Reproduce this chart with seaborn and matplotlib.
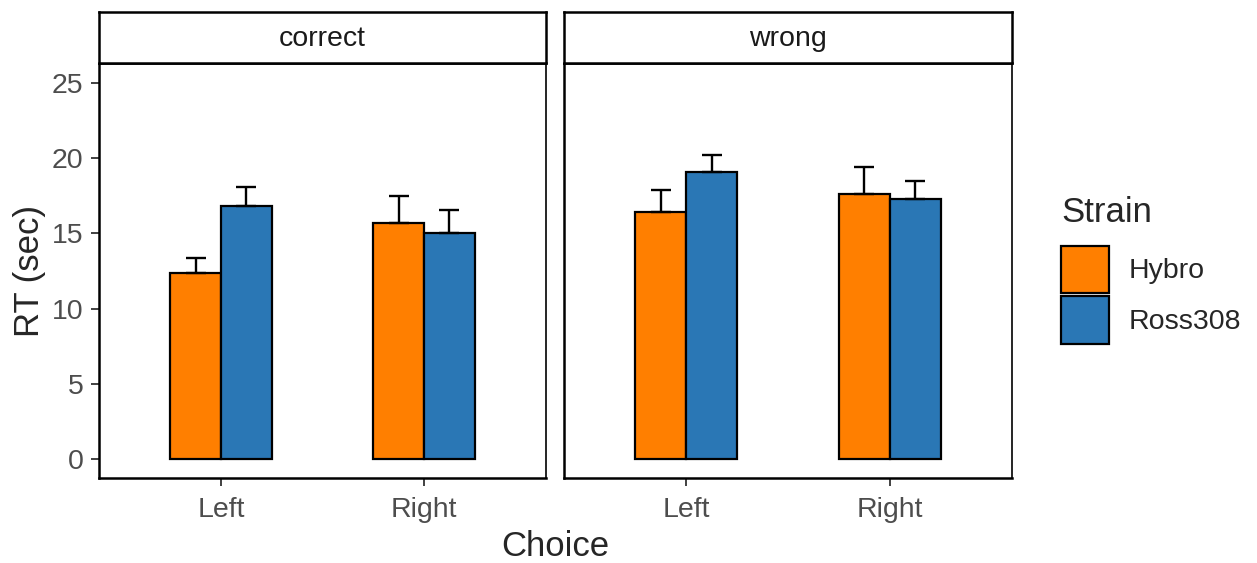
import matplotlib
matplotlib.use("Agg")
import matplotlib.pyplot as plt
from matplotlib.patches import Patch
import seaborn as sns
import pandas as pd

# Mean response times (sec) and standard errors per facet / choice / strain
facets = ["correct", "wrong"]
choices = ["Left", "Right"]
strains = ["Hybro", "Ross308"]

correct_hybro = [12.4, 15.7]
correct_ross = [16.8, 15.05]
wrong_hybro = [16.45, 17.6]
wrong_ross = [19.1, 17.25]

correct_hybro_se = [0.95, 1.75]
correct_ross_se = [1.3, 1.5]
wrong_hybro_se = [1.45, 1.8]
wrong_ross_se = [1.1, 1.2]

yticks = [0, 5, 10, 15, 20, 25]

rows = []
for facet, hyb, ros, hyb_se, ros_se in [
    ("correct", correct_hybro, correct_ross, correct_hybro_se, correct_ross_se),
    ("wrong", wrong_hybro, wrong_ross, wrong_hybro_se, wrong_ross_se),
]:
    for i, ch in enumerate(choices):
        rows.append(dict(Result=facet, Choice=ch, Strain="Hybro", RT=hyb[i], SE=hyb_se[i]))
        rows.append(dict(Result=facet, Choice=ch, Strain="Ross308", RT=ros[i], SE=ros_se[i]))
df = pd.DataFrame(rows)

sns.set_style("white")
plt.rcParams["font.family"] = ["Liberation Sans", "DejaVu Sans"]

palette = {"Hybro": "#FF7F00", "Ross308": "#2A77B5"}
tick_color = "#4D4D4D"
base_size = 20.5
title_size = 25

fig = plt.figure(figsize=(12.57, 5.63), dpi=100)
W, H = 1257, 563


def fx(px):
    return px / W


def fy(py):
    return 1 - py / H


panel_x = [(99, 546), (564, 1012)]
panel_top, panel_bot = 64, 478
strip_top, strip_bot = 12, 63

for k, facet in enumerate(facets):
    x0, x1 = panel_x[k]
    ax = fig.add_axes([fx(x0), fy(panel_bot), fx(x1 - x0), fy(panel_top) - fy(panel_bot)])
    sub = df[df["Result"] == facet]
    sns.barplot(data=sub, x="Choice", y="RT", hue="Strain", order=choices,
                hue_order=strains, palette=palette, width=0.5, gap=0,
                edgecolor="black", linewidth=1.6, errorbar=None, legend=False,
                saturation=1, ax=ax)
    # upper error bars placed at the centre of each drawn bar
    for cont, strain in zip(ax.containers, strains):
        ss = sub[sub["Strain"] == strain].set_index("Choice").loc[choices]
        for patch, se in zip(cont.patches, ss["SE"].values):
            cx = patch.get_x() + patch.get_width() / 2
            top = patch.get_height()
            ax.errorbar([cx], [top], yerr=[[0], [se]], fmt="none",
                        ecolor="black", elinewidth=1.7, capsize=7,
                        capthick=1.7, zorder=1)
    ax.set_xlim(-0.6, 1.6)
    ax.set_ylim(-1.25, 26.25)
    ax.set_yticks(yticks)
    ax.set_xlabel("")
    ax.set_ylabel("")
    for s in ax.spines.values():
        s.set_color("black")
        s.set_linewidth(1.2)
    ax.spines["left"].set_linewidth(1.8)
    ax.spines["bottom"].set_linewidth(1.8)
    ax.tick_params(axis="both", which="both", direction="out", length=6,
                   width=1.3, color="#333333", labelcolor=tick_color,
                   labelsize=base_size, pad=5)
    ax.tick_params(axis="x", pad=8)
    ax.tick_params(left=True, bottom=True)
    if k == 1:
        ax.tick_params(axis="y", left=False, labelleft=False)

    # facet strip
    sax = fig.add_axes([fx(x0), fy(strip_bot), fx(x1 - x0), fy(strip_top) - fy(strip_bot)])
    sax.set_xticks([])
    sax.set_yticks([])
    for s in sax.spines.values():
        s.set_color("black")
        s.set_linewidth(1.8)
    sax.text(0.5, 0.47, facet, ha="center", va="center", fontsize=base_size,
             color="#1A1A1A", transform=sax.transAxes)

fig.text(fx(555), fy(546), "Choice", ha="center", va="center", fontsize=title_size)
fig.text(fx(30), fy(271), "RT (sec)", ha="center", va="center", rotation=90,
         fontsize=title_size)

handles = [Patch(facecolor=palette[s], edgecolor="black", linewidth=1.6, label=s)
           for s in strains]
leg = fig.legend(handles=handles, title="Strain", loc="upper left",
                 bbox_to_anchor=(fx(1061), fy(196)), frameon=False,
                 fontsize=base_size, title_fontsize=title_size,
                 handlelength=1.69, handleheight=2.2, labelspacing=0.1,
                 handletextpad=0.7, borderaxespad=0, borderpad=0)
leg._legend_box.align = "left"
leg._legend_box.sep = 12

fig.savefig("out.png", dpi=100)
